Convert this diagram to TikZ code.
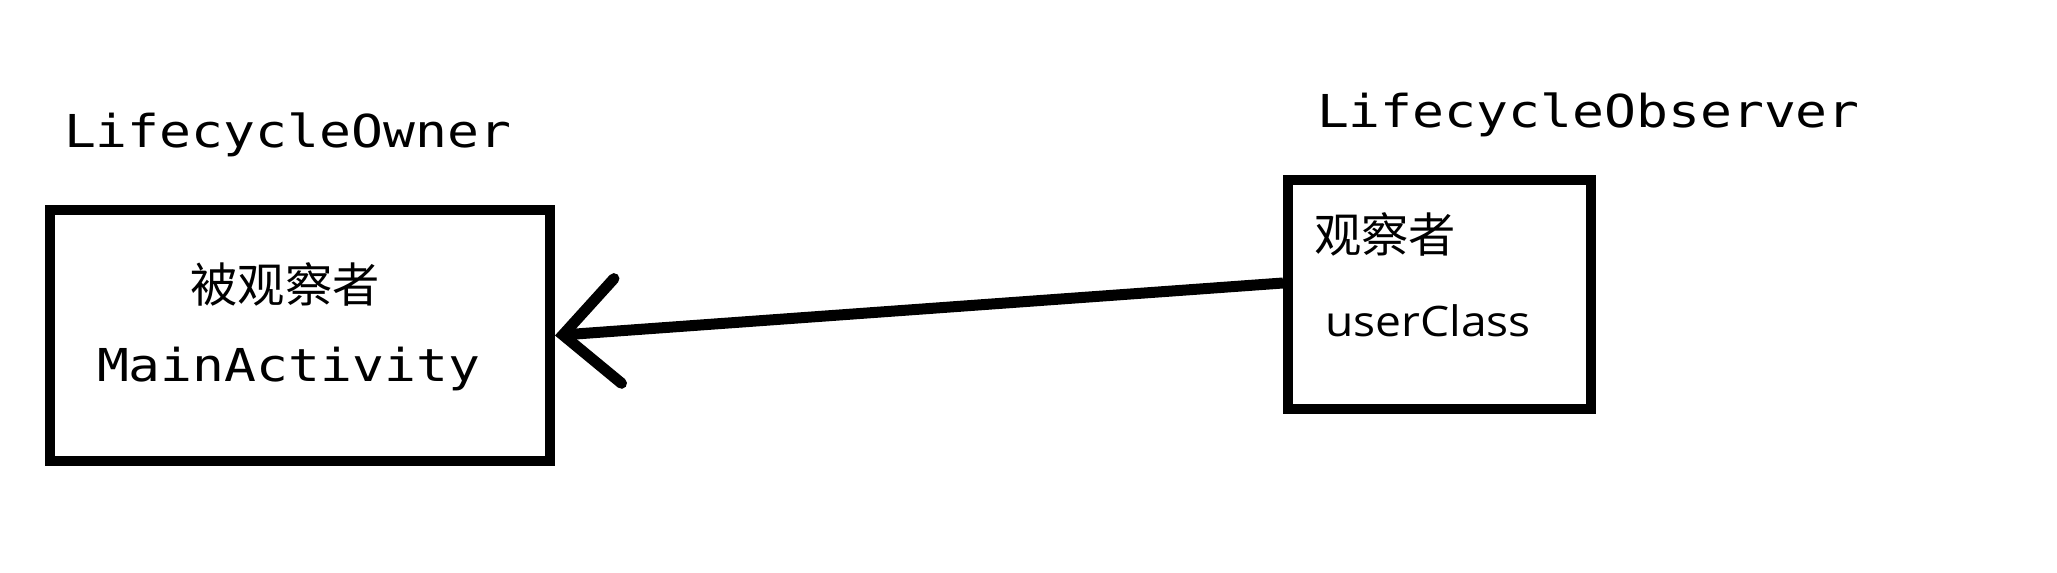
\documentclass[tikz,border=0pt]{standalone}
\usepackage{fontspec}
\usetikzlibrary{arrows.meta}
\newfontfamily\monofont[FakeStretch=1.17]{DejaVu Sans Mono}
\newfontfamily\cjkfont{Noto Sans CJK SC}
\newfontfamily\uifont[FakeStretch=1.1]{Open Sans}
\begin{document}
\begin{tikzpicture}[x=0.02cm, y=-0.02cm, line width=0.2cm,
  class box/.style={draw, inner sep=0pt},
  mono label/.style={inner sep=0pt, anchor=base west, font=\monofont\fontsize{25.8}{30}\selectfont},
  cjk label/.style={inner sep=0pt, font=\cjkfont\fontsize{26.9}{31}\selectfont},
  ui label/.style={inner sep=0pt, anchor=base west, font=\uifont\fontsize{23.9}{28}\selectfont}]
\useasboundingbox (0,0) rectangle (2057,573);
% the two classes
\node[class box, minimum width=10cm, minimum height=5.02cm] (owner) at (300,335.5) {};
\node[class box, minimum width=6.06cm, minimum height=4.58cm] (observer) at (1439.5,294.5) {};
\node[mono label] (ownertitle) at (59,148) {LifecycleOwner};
\node[mono label] (observertitle) at (1312,128) {LifecycleObserver};
\node[cjk label] (ownerrole) at (285,284) {被观察者};
\node[mono label] (ownername) at (92,382) {MainActivity};
\node[cjk label] (observerrole) at (1385,234) {观察者};
\node[ui label] (observername) at (1320,337) {userClass};
% observer -> owner
\draw[line width=0.22cm, -{Straight Barb[length=1.1cm, width=2.1cm, line cap=round]}] ([yshift=0.23cm]observer.west) -- (owner.east);
\end{tikzpicture}
\end{document}
